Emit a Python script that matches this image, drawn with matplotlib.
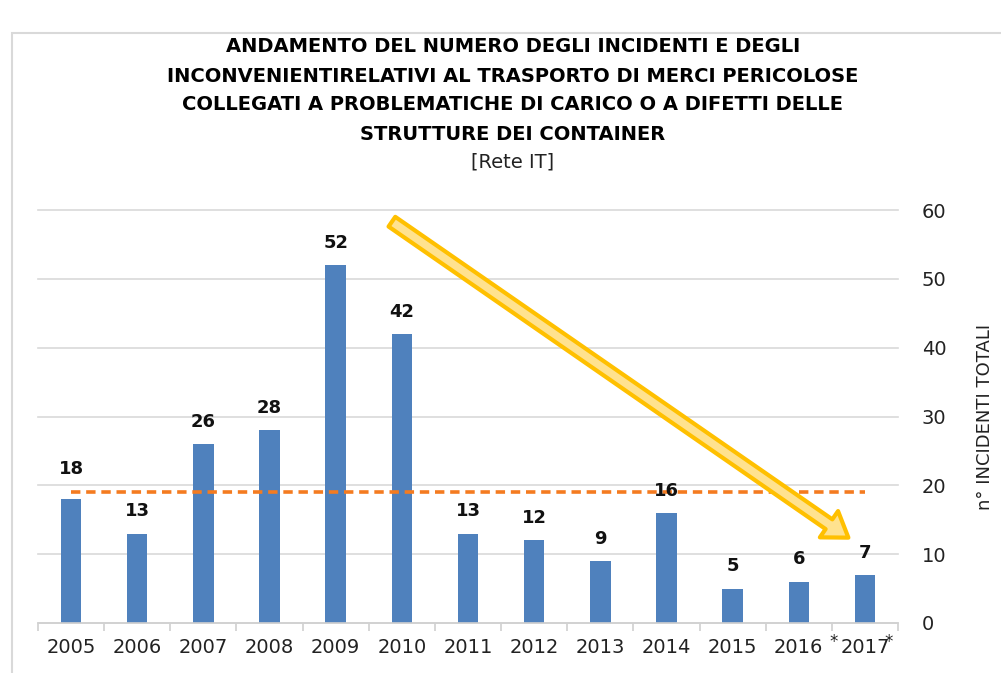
import matplotlib
matplotlib.use("Agg")
import matplotlib.pyplot as plt
from matplotlib.patches import Rectangle
import numpy as np

# data
years = ["2005", "2006", "2007", "2008", "2009", "2010", "2011",
         "2012", "2013", "2014", "2015", "2016", "2017"]
incidents = [18, 13, 26, 28, 52, 42, 13, 12, 9, 16, 5, 6, 7]
starred = ["2016", "2017"]
yticks = [0, 10, 20, 30, 40, 50, 60]

title_lines = [
    "ANDAMENTO DEL NUMERO DEGLI INCIDENTI E DEGLI",
    "INCONVENIENTIRELATIVI AL TRASPORTO DI MERCI PERICOLOSE",
    "COLLEGATI A PROBLEMATICHE DI CARICO O A DIFETTI DELLE",
    "STRUTTURE DEI CONTAINER",
]
subtitle = "[Rete IT]"
ylabel = "n° INCIDENTI TOTALI"

# trend arrow, in data units (start x, start y, end x, end y)
trend = (4.85, 58.3, 11.75, 12.4)

plt.rcParams['font.family'] = ['DejaVu Sans']

fig = plt.figure(figsize=(10.01, 6.73), dpi=100)
fig.patches.append(Rectangle((12 / 1001, -0.1), 1.2, 1 - 33 / 673 + 0.1,
                             transform=fig.transFigure, fill=False,
                             edgecolor="#D9D9D9", linewidth=1.5))

ax = fig.add_axes([38 / 1001, 1 - 623 / 673, (898 - 38) / 1001, (623 - 210) / 673])
x = np.arange(len(years))

ax.bar(x, incidents, width=0.31, color="#4F81BD", zorder=2)

mean_val = np.mean(incidents)
ax.plot([x[0], x[-1]], [mean_val, mean_val], color="#F47B20", lw=2.6,
        dashes=(2.6, 1.6), zorder=3)

for i, v in enumerate(incidents):
    off = 22 if i == 0 else 16
    ax.annotate(str(v), (x[i], v), xytext=(0, off), textcoords="offset points",
                ha="center", va="center", fontsize=13, fontweight="bold",
                color="#111111", zorder=5)

sx, sy, ex, ey = trend
ax.annotate("", xy=(ex, ey), xytext=(sx, sy),
            arrowprops=dict(arrowstyle="simple,tail_width=0.85,head_width=2.3,head_length=1.7",
                            mutation_scale=10, facecolor="#FFE28F",
                            edgecolor="#FFC000", lw=3, shrinkA=0, shrinkB=0),
            zorder=4)

ax.set_xlim(-0.5, len(years) - 0.5)
ax.set_ylim(0, 60)
ax.set_yticks(yticks)
ax.yaxis.tick_right()
ax.tick_params(axis="y", length=0, pad=17, labelsize=14, labelcolor="#222222")
ax.yaxis.set_label_position("right")
ax.set_ylabel(ylabel, fontsize=13, color="#222222", labelpad=21)
ax.grid(axis="y", color="#D9D9D9", lw=1.2, zorder=0)
for gl in ax.get_ygridlines():
    gl.set_clip_on(False)

ax.set_xticks(x)
ax.set_xticklabels(years, fontsize=14, color="#222222")
ax.set_xticks(np.arange(-0.5, len(years)), minor=True)
ax.tick_params(axis="x", which="major", length=0, pad=11)
ax.tick_params(axis="x", which="minor", length=6, color="#D0D0D0", width=1.2)
for s in ["top", "left", "right"]:
    ax.spines[s].set_visible(False)
ax.spines["bottom"].set_color("#D0D0D0")
ax.spines["bottom"].set_linewidth(1.2)

for yr in starred:
    i = years.index(yr)
    dx = 25 if yr == "2016" else 17
    ax.annotate("*", (x[i], 0), xytext=(dx, -14), textcoords="offset points",
                ha="center", va="center", fontsize=12, color="#222222",
                annotation_clip=False)

for k, line in enumerate(title_lines):
    fig.text(513 / 1001, 1 - (47 + 29 * k) / 673, line, ha="center", va="center",
             fontsize=14, fontweight="bold")
fig.text(513 / 1001, 1 - 162 / 673, subtitle, ha="center", va="center",
         fontsize=14, color="#222222")

fig.savefig("out.png", dpi=100)
